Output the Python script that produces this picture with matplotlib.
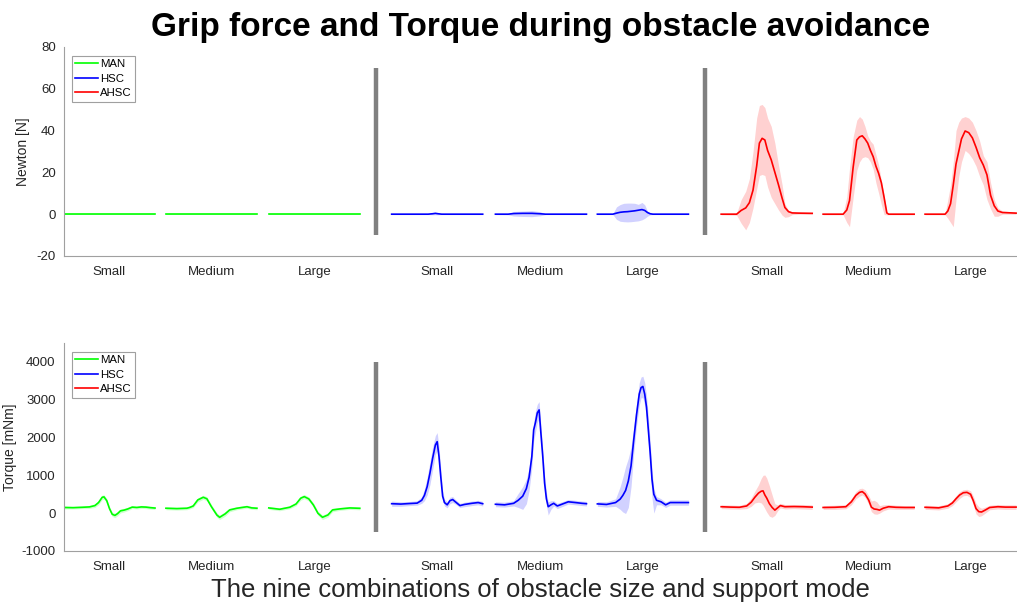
import numpy as np
import matplotlib.pyplot as plt

plt.rcParams['font.family'] = ['Liberation Sans', 'DejaVu Sans']
plt.rcParams['axes.unicode_minus'] = False

sizes = ["Small", "Medium", "Large"]
modes = ["MAN", "HSC", "AHSC"]

# ---- grip force [N], time normalised to 0..100 % of each trial ----
# MAN: no grip force at all
f_man_t = [0, 100]
f_man_mean = [0, 0]
f_man_lo = [-0.2, -0.2]
f_man_hi = [0.2, 0.2]

f_hsc_s_t = [0, 40, 45, 48, 51, 55, 100]
f_hsc_s_mean = [0, 0, 0.2, 0.4, 0.2, 0, 0]
f_hsc_s_lo = [-0.2, -0.2, -0.3, -0.3, -0.3, -0.2, -0.2]
f_hsc_s_hi = [0.2, 0.2, 0.5, 0.8, 0.5, 0.2, 0.2]

f_hsc_m_t = [0, 14, 20, 30, 40, 49, 55, 100]
f_hsc_m_mean = [0, 0, 0.3, 0.4, 0.4, 0.2, 0, 0]
f_hsc_m_lo = [-0.2, -0.3, -0.9, -1.1, -1.2, -0.8, -0.2, -0.2]
f_hsc_m_hi = [0.2, 0.3, 1.3, 1.5, 1.7, 1.2, 0.2, 0.2]

f_hsc_l_t = [0, 17, 21, 25, 29, 33, 37, 41, 45, 49, 52, 55, 58, 61, 100]
f_hsc_l_mean = [0, 0, 0.5, 0.9, 1.1, 1.2, 1.4, 1.6, 1.9, 2.2, 1.8, 0.8, 0.2, 0, 0]
f_hsc_l_lo = [-0.2, -0.2, -2.5, -3.4, -3.6, -3.7, -3.6, -3.4, -3.2, -2.7, -2, -1, -0.3, -0.2, -0.2]
f_hsc_l_hi = [0.2, 0.2, 3.5, 4.6, 5.2, 5.3, 5.3, 5.2, 4.7, 5.6, 4.5, 1.5, 0.5, 0.2, 0.2]

f_ahsc_s_t = [0, 17, 22, 27, 31, 35, 39, 42, 45, 48, 51, 55, 59, 63, 67, 70, 74, 78, 85, 100]
f_ahsc_s_mean = [0, 0, 1.8, 3.0, 5.5, 11.5, 23, 34, 36.3, 35.5, 30.5, 26, 20, 14, 7.6, 3.2, 1.2, 0.6, 0.5, 0.4]
f_ahsc_s_lo = [-0.3, -0.5, -4.4, -7.5, -4, 3, 12, 18.5, 19, 18.5, 13, 8, 5, 2, -0.5, -1.5, -1.2, -0.2, 0, 0]
f_ahsc_s_hi = [0.3, 0.5, 7, 11, 17, 30, 46, 52, 52.5, 51, 46, 42, 34, 23.5, 14, 5, 1.8, 1.2, 1, 0.8]

f_ahsc_m_t = [0, 22, 26, 29, 33, 37, 40, 43, 46, 49, 52, 55, 58, 61, 64, 67, 70, 72, 100]
f_ahsc_m_mean = [0, 0, 2, 6.5, 22.5, 35.5, 37, 37.5, 36, 34, 30.5, 27.5, 23, 19.5, 15, 8, 0.6, 0, 0]
f_ahsc_m_lo = [-0.3, -0.3, -4, -6, 8, 21, 25, 27, 27.5, 27, 25, 21.5, 15, 10, 4.5, -0.2, -0.3, -0.3, -0.3]
f_ahsc_m_hi = [0.3, 0.3, 8.4, 22, 37, 45, 46.7, 45.5, 42, 37.5, 35, 33.5, 28.5, 23.5, 16, 9, 0.5, 0.3, 0.3]

f_ahsc_l_t = [0, 22, 25, 28, 31, 34, 37, 40, 44, 48, 52, 56, 60, 64, 68, 72, 76, 80, 85, 100]
f_ahsc_l_mean = [0, 0, 1.5, 5, 14, 24, 30, 36, 39.8, 39, 36.5, 32, 27, 23.5, 18.8, 9, 4, 1.5, 0.8, 0.5]
f_ahsc_l_lo = [-0.3, -0.3, -2, -4, -6, 7, 18, 25, 30.5, 29, 26.5, 23, 18, 14, 7, 2.5, -1, -1, 0, 0]
f_ahsc_l_hi = [0.3, 0.3, 7, 14, 25, 40, 44, 46, 46.7, 46, 44, 40, 35, 28, 25, 15, 7, 3, 1.5, 1]

# ---- torque [mNm] ----
t_man_s_t = [0, 10, 20, 28, 34, 38, 42, 44, 47, 50, 53, 56, 59, 62, 66, 70, 75, 80, 85, 90, 95, 100]
t_man_s_mean = [150, 145, 155, 165, 200, 280, 420, 430, 330, 120, -30, -60, -10, 60, 80, 110, 160, 150, 165, 160, 145, 135]
t_man_s_lo = [110, 110, 120, 125, 150, 220, 360, 375, 275, 65, -90, -120, -70, 5, 30, 65, 120, 110, 125, 120, 105, 95]
t_man_s_hi = [190, 180, 190, 205, 250, 340, 480, 485, 385, 175, 30, 0, 50, 115, 130, 155, 200, 190, 205, 200, 185, 175]

t_man_m_t = [0, 12, 23, 26, 30, 35, 41, 45, 50, 56, 59, 65, 70, 78, 89, 94, 100]
t_man_m_mean = [130, 120, 130, 150, 190, 350, 420, 380, 170, -50, -110, -20, 85, 130, 170, 140, 130]
t_man_m_lo = [90, 80, 90, 110, 145, 295, 365, 325, 115, -110, -170, -80, 35, 90, 130, 100, 90]
t_man_m_hi = [170, 160, 170, 190, 235, 405, 475, 435, 225, 10, -50, 40, 135, 170, 210, 180, 170]

t_man_l_t = [0, 12, 23, 30, 35, 39, 44, 49, 54, 59, 65, 70, 78, 89, 100]
t_man_l_mean = [138, 103, 156, 243, 394, 437, 376, 217, -3, -109, -48, 85, 112, 138, 128]
t_man_l_lo = [98, 63, 116, 195, 340, 380, 320, 160, -60, -170, -105, 35, 72, 98, 88]
t_man_l_hi = [178, 143, 196, 290, 450, 495, 430, 275, 55, -50, 10, 135, 152, 178, 168]

t_hsc_s_t = [0, 10, 20, 28, 33, 36, 39, 42, 45, 48, 50, 52, 54, 56, 58, 61, 64, 67, 70, 75, 80, 88, 95, 100]
t_hsc_s_mean = [250, 240, 255, 265, 340, 470, 700, 1050, 1450, 1800, 1890, 1500, 950, 450, 280, 220, 330, 360, 300, 200, 230, 260, 280, 250]
t_hsc_s_lo = [180, 180, 200, 210, 260, 330, 480, 750, 1150, 1550, 1650, 1300, 800, 350, 190, 140, 250, 280, 240, 150, 170, 200, 220, 190]
t_hsc_s_hi = [320, 300, 310, 330, 430, 640, 950, 1350, 1750, 2050, 2130, 1750, 1150, 600, 370, 300, 420, 440, 360, 260, 290, 320, 340, 310]

t_hsc_m_t = [0, 10, 20, 25, 30, 34, 37, 40, 42, 44, 46, 48, 50, 52, 54, 56, 58, 61, 64, 68, 74, 80, 88, 95, 100]
t_hsc_m_mean = [235, 220, 260, 340, 450, 650, 950, 1500, 2200, 2400, 2650, 2730, 2100, 1500, 800, 380, 170, 220, 260, 190, 245, 300, 280, 260, 250]
t_hsc_m_lo = [170, 160, 190, 150, 100, 250, 600, 1200, 1900, 2150, 2400, 2500, 1900, 1300, 600, 200, -50, 100, 190, 120, 180, 240, 220, 200, 190]
t_hsc_m_hi = [300, 290, 330, 520, 700, 900, 1200, 1750, 2400, 2700, 2880, 2950, 2300, 1700, 1000, 550, 300, 330, 330, 260, 310, 360, 340, 320, 310]

t_hsc_l_t = [0, 10, 20, 25, 28, 31, 34, 37, 40, 43, 46, 48, 50, 52, 54, 56, 58, 60, 62, 65, 70, 75, 80, 90, 100]
t_hsc_l_mean = [245, 230, 280, 370, 470, 600, 850, 1250, 1950, 2600, 3150, 3320, 3350, 3150, 2800, 2200, 1600, 900, 500, 340, 300, 220, 280, 280, 280]
t_hsc_l_lo = [180, 160, 180, 100, 30, -10, 150, 700, 1600, 2300, 2850, 3050, 3050, 2850, 2500, 1850, 1200, 400, 0, 220, 220, 150, 210, 210, 210]
t_hsc_l_hi = [310, 300, 380, 700, 950, 1230, 1450, 1750, 2300, 2900, 3450, 3600, 3620, 3450, 3100, 2550, 1900, 1150, 650, 440, 380, 290, 350, 350, 350]

t_ahsc_s_t = [0, 10, 20, 28, 33, 37, 41, 44, 46, 48, 50, 53, 56, 59, 62, 65, 70, 80, 90, 100]
t_ahsc_s_mean = [170, 160, 155, 190, 290, 420, 530, 580, 590, 480, 400, 250, 150, 80, 140, 200, 170, 175, 170, 160]
t_ahsc_s_lo = [120, 110, 105, 120, 180, 270, 290, 270, 210, 120, 30, -80, -110, -60, 60, 140, 110, 120, 110, 100]
t_ahsc_s_hi = [220, 215, 205, 260, 400, 580, 750, 920, 1000, 1010, 930, 720, 480, 250, 220, 260, 230, 230, 230, 220]

t_ahsc_m_t = [0, 13, 25, 31, 36, 40, 43, 46, 50, 53, 56, 59, 62, 66, 72, 80, 90, 100]
t_ahsc_m_mean = [150, 155, 170, 300, 470, 550, 570, 510, 350, 160, 110, 100, 80, 130, 170, 155, 150, 150]
t_ahsc_m_lo = [100, 100, 115, 220, 380, 450, 480, 420, 240, 40, -20, -30, 0, 60, 110, 100, 100, 100]
t_ahsc_m_hi = [200, 210, 225, 380, 570, 650, 660, 620, 470, 320, 340, 300, 200, 220, 230, 210, 200, 200]

t_ahsc_l_t = [0, 15, 25, 30, 34, 38, 42, 46, 50, 53, 56, 59, 62, 66, 71, 80, 88, 95, 100]
t_ahsc_l_mean = [155, 140, 190, 270, 380, 480, 540, 550, 500, 330, 120, 40, 30, 80, 150, 170, 160, 160, 160]
t_ahsc_l_lo = [100, 85, 130, 200, 300, 390, 460, 470, 410, 210, -20, -90, -70, 0, 90, 110, 100, 100, 100]
t_ahsc_l_hi = [210, 195, 250, 340, 460, 570, 620, 630, 590, 450, 260, 170, 130, 160, 210, 230, 220, 220, 220]

force_segments = [
    ("MAN", f_man_t, f_man_mean, f_man_lo, f_man_hi),
    ("MAN", f_man_t, f_man_mean, f_man_lo, f_man_hi),
    ("MAN", f_man_t, f_man_mean, f_man_lo, f_man_hi),
    ("HSC", f_hsc_s_t, f_hsc_s_mean, f_hsc_s_lo, f_hsc_s_hi),
    ("HSC", f_hsc_m_t, f_hsc_m_mean, f_hsc_m_lo, f_hsc_m_hi),
    ("HSC", f_hsc_l_t, f_hsc_l_mean, f_hsc_l_lo, f_hsc_l_hi),
    ("AHSC", f_ahsc_s_t, f_ahsc_s_mean, f_ahsc_s_lo, f_ahsc_s_hi),
    ("AHSC", f_ahsc_m_t, f_ahsc_m_mean, f_ahsc_m_lo, f_ahsc_m_hi),
    ("AHSC", f_ahsc_l_t, f_ahsc_l_mean, f_ahsc_l_lo, f_ahsc_l_hi),
]
torque_segments = [
    ("MAN", t_man_s_t, t_man_s_mean, t_man_s_lo, t_man_s_hi),
    ("MAN", t_man_m_t, t_man_m_mean, t_man_m_lo, t_man_m_hi),
    ("MAN", t_man_l_t, t_man_l_mean, t_man_l_lo, t_man_l_hi),
    ("HSC", t_hsc_s_t, t_hsc_s_mean, t_hsc_s_lo, t_hsc_s_hi),
    ("HSC", t_hsc_m_t, t_hsc_m_mean, t_hsc_m_lo, t_hsc_m_hi),
    ("HSC", t_hsc_l_t, t_hsc_l_mean, t_hsc_l_lo, t_hsc_l_hi),
    ("AHSC", t_ahsc_s_t, t_ahsc_s_mean, t_ahsc_s_lo, t_ahsc_s_hi),
    ("AHSC", t_ahsc_m_t, t_ahsc_m_mean, t_ahsc_m_lo, t_ahsc_m_hi),
    ("AHSC", t_ahsc_l_t, t_ahsc_l_mean, t_ahsc_l_lo, t_ahsc_l_hi),
]

colors = {"MAN": "#00ff00", "HSC": "#0000ff", "AHSC": "#ff0000"}
# where each trial starts on the shared x axis (trial length = 100)
starts = [0, 112, 225, 360, 474, 586, 722, 834, 946]
separators = [343, 704]

fig = plt.figure(figsize=(10.17, 6.07), dpi=100)
ax1 = fig.add_axes([0.0629, 0.5783, 0.9371, 0.3443])
ax2 = fig.add_axes([0.0629, 0.0923, 0.9371, 0.3427])


def draw(ax, segments, ylim, yticks, sep_range, ylabel, label_x):
    handles = {}
    for i, (mode, t, m, lo, hi) in enumerate(segments):
        x = starts[i] + np.array(t, dtype=float)
        ax.fill_between(x, lo, hi, color=colors[mode], alpha=0.18, lw=0)
        line, = ax.plot(x, m, color=colors[mode], lw=1.2)
        handles.setdefault(mode, line)
    for s in separators:
        ax.plot([s, s], sep_range, color="#808080", lw=3.2, solid_capstyle="butt")
    ax.set_xlim(0, 1047)
    ax.set_ylim(*ylim)
    ax.set_yticks(yticks)
    ax.set_xticks([s + 50 for s in starts])
    ax.set_xticklabels(sizes * 3)
    ax.tick_params(length=0, labelsize=9.5, colors="#262626", pad=6)
    ax.tick_params(axis="x", pad=7)
    for side in ["top", "right"]:
        ax.spines[side].set_visible(False)
    for side in ["left", "bottom"]:
        ax.spines[side].set_color("#a0a0a0")
        ax.spines[side].set_linewidth(0.8)
    ax.set_ylabel(ylabel, fontsize=10, color="#262626")
    ax.yaxis.set_label_coords(label_x, 0.5)
    leg = ax.legend([handles[m] for m in modes], modes, loc="upper left",
                    bbox_to_anchor=(0.008, 0.958), borderaxespad=0, fontsize=8.2,
                    handlelength=2.0, handletextpad=0.2, labelspacing=0.4,
                    borderpad=0.3, fancybox=False, framealpha=1)
    leg.get_frame().set_edgecolor("#a0a0a0")
    leg.get_frame().set_linewidth(0.8)


draw(ax1, force_segments, (-20, 80), [-20, 0, 20, 40, 60, 80], [-10, 70],
     "Newton [N]", -0.0357)
draw(ax2, torque_segments, (-1000, 4500), [-1000, 0, 1000, 2000, 3000, 4000], [-500, 4000],
     "Torque [mNm]", -0.0493)

ax1.set_title("Grip force and Torque during obstacle avoidance", fontsize=24,
              fontweight="bold", pad=8)
ax2.set_xlabel("The nine combinations of obstacle size and support mode",
               fontsize=18.5, color="#262626", labelpad=4)

fig.savefig("out.png", dpi=100)
